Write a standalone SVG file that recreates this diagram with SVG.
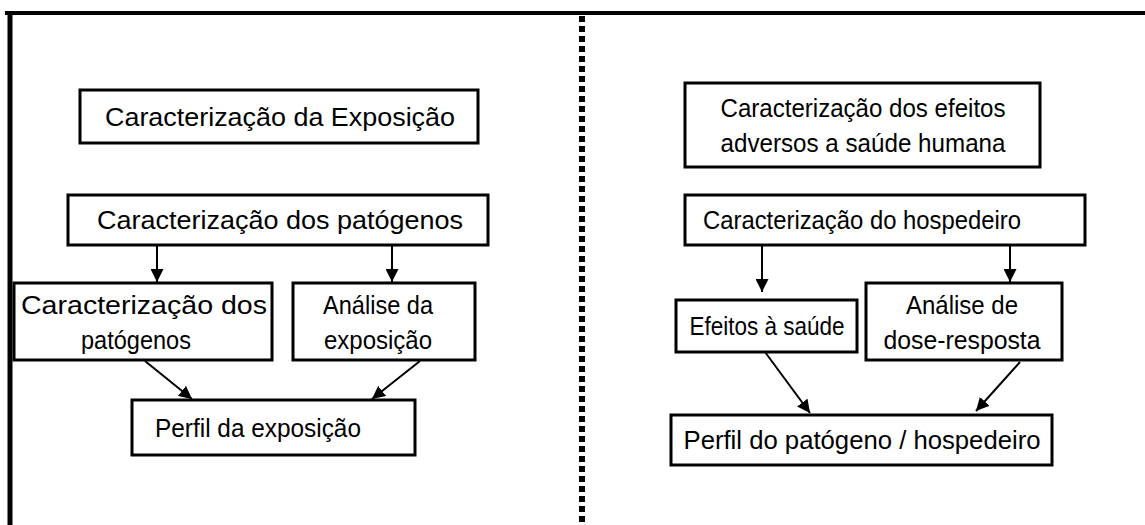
<svg xmlns="http://www.w3.org/2000/svg" width="1145" height="525" viewBox="0 0 1145 525">
<defs>
<style>
.box{fill:#fff;stroke:#000;stroke-width:3}
.t{font-family:"Liberation Sans",Arial,sans-serif;font-size:26px;fill:#000;text-anchor:middle}
.c{stroke:#000;stroke-width:2;fill:none}
</style>
<marker id="ah" viewBox="0 0 10 10" refX="10" refY="5" markerWidth="6.5" markerHeight="6.5" markerUnits="strokeWidth" orient="auto">
<path d="M0,0 L10,5 L0,10 z" fill="#000"/>
</marker>
</defs>
<rect width="1145" height="525" fill="#fff"/>
<g id="frame">
<line x1="5" y1="13" x2="1145" y2="13" stroke="#000" stroke-width="4"/>
<line x1="10" y1="11" x2="10" y2="525" stroke="#000" stroke-width="5"/>
<line x1="582" y1="16" x2="582" y2="525" stroke="#000" stroke-width="6" stroke-dasharray="6 4"/>
</g>
<g id="connectors">
<line class="c" x1="157" y1="245" x2="157" y2="282" marker-end="url(#ah)"/>
<line class="c" x1="392" y1="245" x2="392" y2="282" marker-end="url(#ah)"/>
<line class="c" x1="145" y1="361" x2="192" y2="399" marker-end="url(#ah)"/>
<line class="c" x1="420" y1="361" x2="372" y2="399" marker-end="url(#ah)"/>
<line class="c" x1="762" y1="245" x2="762" y2="292" marker-end="url(#ah)"/>
<line class="c" x1="1010" y1="245" x2="1010" y2="282" marker-end="url(#ah)"/>
<line class="c" x1="765" y1="352" x2="810" y2="413" marker-end="url(#ah)"/>
<line class="c" x1="1020" y1="362" x2="976" y2="411" marker-end="url(#ah)"/>
</g>
<g id="n1"><rect class="box" x="80" y="90" width="398" height="53"/><text class="t" x="280" y="126" textLength="350" lengthAdjust="spacingAndGlyphs">Caracterização da Exposição</text></g>
<g id="n2"><rect class="box" x="68" y="195" width="420" height="50"/><text class="t" x="280" y="229" textLength="366" lengthAdjust="spacingAndGlyphs">Caracterização dos patógenos</text></g>
<g id="n3"><rect class="box" x="14" y="283" width="258" height="77"/><text class="t" x="144" y="314" textLength="246" lengthAdjust="spacingAndGlyphs">Caracterização dos</text><text class="t" x="136" y="349" textLength="110" lengthAdjust="spacingAndGlyphs">patógenos</text></g>
<g id="n4"><rect class="box" x="293" y="283" width="182" height="77"/><text class="t" x="378" y="314" textLength="110" lengthAdjust="spacingAndGlyphs">Análise da</text><text class="t" x="378" y="349" textLength="108" lengthAdjust="spacingAndGlyphs">exposição</text></g>
<g id="n5"><rect class="box" x="132" y="400" width="283" height="55"/><text class="t" x="258" y="437" textLength="206" lengthAdjust="spacingAndGlyphs">Perfil da exposição</text></g>
<g id="n6"><rect class="box" x="685" y="83" width="355" height="84"/><text class="t" x="863" y="117" textLength="285" lengthAdjust="spacingAndGlyphs">Caracterização dos efeitos</text><text class="t" x="863" y="152" textLength="285" lengthAdjust="spacingAndGlyphs">adversos a saúde humana</text></g>
<g id="n7"><rect class="box" x="685" y="195" width="400" height="50"/><text class="t" x="862" y="229" textLength="318" lengthAdjust="spacingAndGlyphs">Caracterização do hospedeiro</text></g>
<g id="n8"><rect class="box" x="676" y="300" width="181" height="52"/><text class="t" x="767" y="335" textLength="155" lengthAdjust="spacingAndGlyphs">Efeitos à saúde</text></g>
<g id="n9"><rect class="box" x="866" y="283" width="196" height="77"/><text class="t" x="962" y="314" textLength="112" lengthAdjust="spacingAndGlyphs">Análise de</text><text class="t" x="962" y="349" textLength="157" lengthAdjust="spacingAndGlyphs">dose-resposta</text></g>
<g id="n10"><rect class="box" x="671" y="415" width="381" height="50"/><text class="t" x="862" y="449" textLength="357" lengthAdjust="spacingAndGlyphs">Perfil do patógeno / hospedeiro</text></g>
</svg>
